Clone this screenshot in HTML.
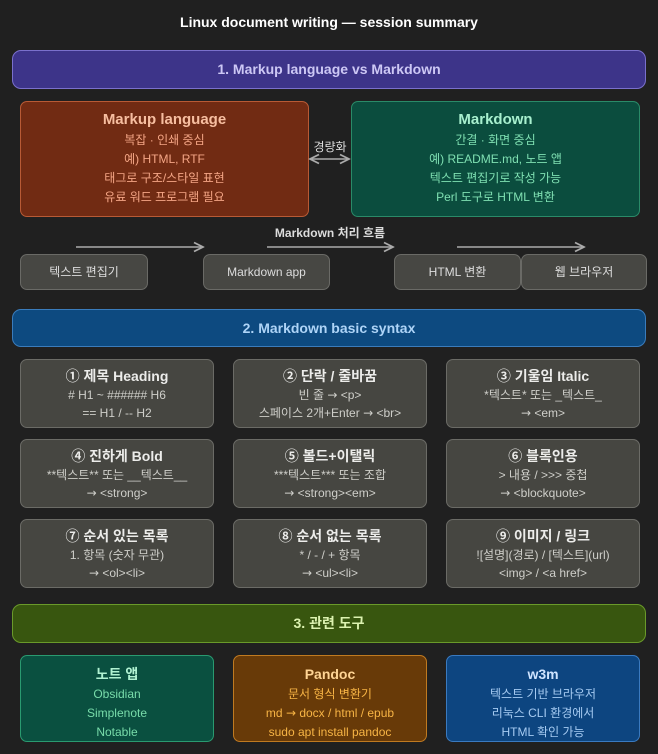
<!DOCTYPE html>
<html><head><meta charset="utf-8"><style>
*{margin:0;padding:0;box-sizing:border-box}
body{width:658px;height:754px;background:#202020;position:relative;overflow:hidden;font-family:"Liberation Sans","Noto Sans CJK KR",sans-serif}
.a{position:absolute}
.box{position:absolute;border:1px solid;border-radius:7px;text-align:center}
.band{position:absolute;left:12px;width:634px;border:1px solid;border-radius:9px;text-align:center;font-weight:bold;font-size:14px}
.t{font-weight:bold;font-size:14px}
.l{font-size:12px;line-height:19px}
.g{background:#464641;border-color:#6b6b66;color:#cfcfca;padding-top:6px}
.g .t{color:#ececea;line-height:20px}
.g .l{line-height:18px}
.f{background:#474743;border-color:#6a6a66;color:#ddd;font-size:12px;line-height:34px;top:254px;height:36px}
.ar{font-family:"DejaVu Sans",sans-serif;font-size:12px}
</style></head><body>
<div class="a" style="left:0;width:658px;top:14px;text-align:center;color:#fff;font-weight:bold;font-size:14px">Linux document writing — session summary</div>

<div class="band" style="top:50px;height:39px;line-height:37px;background:#3d3489;border-color:#7a70cc;color:#cdc8f5">1. Markup language vs Markdown</div>

<div class="box" style="left:20px;top:101px;width:289px;height:116px;background:#712b13;border-color:#b85a35;padding-top:8px">
<div class="t" style="color:#f7bea0;font-size:15px;line-height:20px">Markup language</div>
<div class="l" style="color:#f4a585;margin-top:1px">복잡 · 인쇄 중심<br>예) HTML, RTF<br>태그로 구조/스타일 표현<br>유료 워드 프로그램 필요</div></div>

<div class="box" style="left:351px;top:101px;width:289px;height:116px;background:#0b4d3e;border-color:#2a8a68;padding-top:8px">
<div class="t" style="color:#a8f0cf;font-size:15px;line-height:20px">Markdown</div>
<div class="l" style="color:#7fe0b2;margin-top:1px">간결 · 화면 중심<br>예) README.md, 노트 앱<br>텍스트 편집기로 작성 가능<br>Perl 도구로 HTML 변환</div></div>

<div class="a" style="left:309px;width:42px;top:138px;text-align:center;color:#ddd;font-size:12px">경량화</div>
<svg class="a" style="left:0;top:0" width="658" height="300">
<defs><marker id="m" markerWidth="8" markerHeight="8" refX="7" refY="4" orient="auto-start-reverse"><path d="M1,1 L7,4 L1,7" fill="none" stroke="#aaa" stroke-width="1.2"/></marker></defs>
<line x1="310" y1="159" x2="349" y2="159" stroke="#aaa" stroke-width="1.5" marker-start="url(#m)" marker-end="url(#m)"/>
<line x1="76" y1="247" x2="203" y2="247" stroke="#aaa" stroke-width="1.5" marker-end="url(#m)"/>
<line x1="267" y1="247" x2="393" y2="247" stroke="#aaa" stroke-width="1.5" marker-end="url(#m)"/>
<line x1="457" y1="247" x2="584" y2="247" stroke="#aaa" stroke-width="1.5" marker-end="url(#m)"/>
</svg>
<div class="a" style="left:230px;width:200px;top:224px;text-align:center;color:#ddd;font-size:12px;font-weight:bold">Markdown 처리 흐름</div>
<div class="box f" style="left:20px;width:128px">텍스트 편집기</div>
<div class="box f" style="left:203px;width:127px">Markdown app</div>
<div class="box f" style="left:394px;width:127px">HTML 변환</div>
<div class="box f" style="left:521px;width:126px">웹 브라우저</div>

<div class="band" style="top:309px;height:38px;line-height:36px;background:#0d4a80;border-color:#3a7cbc;color:#aed4f7">2. Markdown basic syntax</div>

<div class="box g" style="left:20px;top:359px;width:194px;height:69px"><div class="t">① 제목 Heading</div><div class="l"># H1 ~ ###### H6<br>== H1 / -- H2</div></div>
<div class="box g" style="left:233px;top:359px;width:194px;height:69px"><div class="t">② 단락 / 줄바꿈</div><div class="l">빈 줄 <span class="ar">→</span> &lt;p&gt;<br>스페이스 2개+Enter <span class="ar">→</span> &lt;br&gt;</div></div>
<div class="box g" style="left:446px;top:359px;width:194px;height:69px"><div class="t">③ 기울임 Italic</div><div class="l">*텍스트* 또는 _텍스트_<br><span class="ar">→</span> &lt;em&gt;</div></div>
<div class="box g" style="left:20px;top:439px;width:194px;height:69px"><div class="t">④ 진하게 Bold</div><div class="l">**텍스트** 또는 __텍스트__<br><span class="ar">→</span> &lt;strong&gt;</div></div>
<div class="box g" style="left:233px;top:439px;width:194px;height:69px"><div class="t">⑤ 볼드+이탤릭</div><div class="l">***텍스트*** 또는 조합<br><span class="ar">→</span> &lt;strong&gt;&lt;em&gt;</div></div>
<div class="box g" style="left:446px;top:439px;width:194px;height:69px"><div class="t">⑥ 블록인용</div><div class="l">&gt; 내용 / &gt;&gt;&gt; 중첩<br><span class="ar">→</span> &lt;blockquote&gt;</div></div>
<div class="box g" style="left:20px;top:519px;width:194px;height:69px"><div class="t">⑦ 순서 있는 목록</div><div class="l">1. 항목 (숫자 무관)<br><span class="ar">→</span> &lt;ol&gt;&lt;li&gt;</div></div>
<div class="box g" style="left:233px;top:519px;width:194px;height:69px"><div class="t">⑧ 순서 없는 목록</div><div class="l">* / - / + 항목<br><span class="ar">→</span> &lt;ul&gt;&lt;li&gt;</div></div>
<div class="box g" style="left:446px;top:519px;width:194px;height:69px"><div class="t">⑨ 이미지 / 링크</div><div class="l">![설명](경로) / [텍스트](url)<br>&lt;img&gt; / &lt;a href&gt;</div></div>

<div class="band" style="top:604px;height:39px;line-height:37px;background:#38560f;border-color:#6a9a2a;color:#dcf2b0">3. 관련 도구</div>

<div class="box" style="left:20px;top:655px;width:194px;height:87px;background:#0a5040;border-color:#2a9a70;padding-top:8px"><div class="t" style="color:#b0f2d2;line-height:20px">노트 앱</div><div class="l" style="color:#78dcaa;margin-top:1px">Obsidian<br>Simplenote<br>Notable</div></div>
<div class="box" style="left:233px;top:655px;width:194px;height:87px;background:#683a08;border-color:#c07a20;padding-top:8px"><div class="t" style="color:#ffd494;line-height:20px">Pandoc</div><div class="l" style="color:#f7b445;margin-top:1px">문서 형식 변환기<br>md <span class="ar">→</span> docx / html / epub<br>sudo apt install pandoc</div></div>
<div class="box" style="left:446px;top:655px;width:194px;height:87px;background:#0d4580;border-color:#3a7ac0;padding-top:8px"><div class="t" style="color:#cfe4ff;line-height:20px">w3m</div><div class="l" style="color:#a6cbf2;margin-top:1px">텍스트 기반 브라우저<br>리눅스 CLI 환경에서<br>HTML 확인 가능</div></div>
</body></html>
